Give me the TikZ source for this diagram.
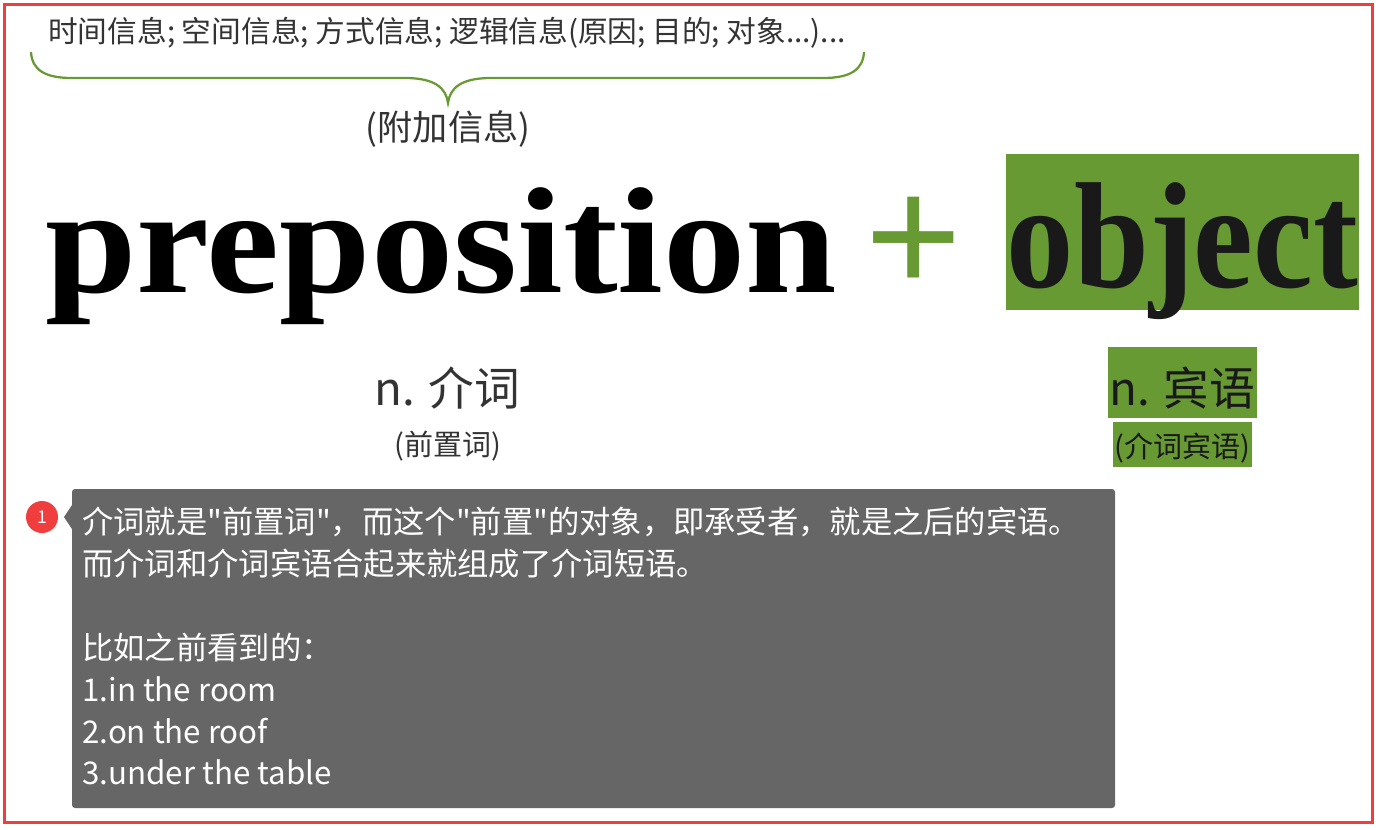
\documentclass[tikz,border=0pt]{standalone}
\usepackage{graphicx}
\usepackage{fontspec}
\newfontfamily\cjkfont{Noto Sans CJK SC}
\newfontfamily\wordfont{Liberation Serif}
\newfontfamily\plusfont{Liberation Sans}
\usetikzlibrary{positioning}
\definecolor{leafgreen}{RGB}{104,154,52}
\definecolor{notegray}{RGB}{102,102,102}
\definecolor{framered}{RGB}{240,62,62}

\begin{document}
\begin{tikzpicture}[
    x=0.2mm, y=-0.2mm,
    frame/.style={draw=framered, line width=0.6mm},
    bracket/.style={draw=leafgreen, line width=0.45mm},
    cntext/.style={inner sep=0pt, anchor=base, text=black!80},
    bigword/.style={inner sep=0pt, anchor=base, font=\wordfont\bfseries\fontsize{86}{86}\selectfont},
    wordbox/.style={fill=leafgreen, inner sep=0pt, anchor=base, text=black!90},
    note/.style={fill=notegray, rounded corners=0.6mm},
    notetext/.style={text=white, align=left, inner sep=0pt, anchor=north west,
                     font=\cjkfont\fontsize{17.8}{23.8}\selectfont},
    badge/.style={circle, fill=framered, text=white, inner sep=0pt, minimum size=6.4mm,
                  font=\cjkfont\fontsize{10}{10}\selectfont},
]

\useasboundingbox (0,0) rectangle (1380,829);

% Outer frame
\draw[frame] (4.5,4.5) rectangle (1372.5,822.5);

% Kinds of extra information, with the brace under them
\node[cntext, font=\cjkfont\fontsize{16.9}{20}\selectfont] (kinds) at (447,42)
    {时间信息; 空间信息; 方式信息; 逻辑信息(原因; 目的; 对象...)...};
\coordinate (bl) at (31,52);
\coordinate (br) at (864,52);
\coordinate (tip) at (448,103);
\draw[bracket] (bl) .. controls (32,70) and (45,78) .. (72,78) -- (405,78)
    .. controls (435,78) and (446,88) .. (tip)
    .. controls (450,88) and (461,78) .. (491,78) -- (823,78)
    .. controls (850,78) and (863,70) .. (br);
\node[cntext, font=\cjkfont\fontsize{20}{24}\selectfont] (extra) at (448,140) {(附加信息)};

% preposition + object
\node[bigword, anchor=base west] (prep) at (45,292) {\scalebox{1.088}[1]{preposition}};
\node[font=\plusfont\fontsize{94}{94}\selectfont, text=leafgreen, inner sep=0pt] (plus) at (914,245) {+};
\node[wordbox, bigword, text height=26.6mm, text depth=4.6mm, minimum width=70.6mm] (obj)
    at (1182.5,287) {\scalebox{0.89}[1]{object}};

% Chinese names
\node[cntext, font=\cjkfont\fontsize{26}{30}\selectfont] (prepcn) at (447,405) {n. 介词};
\node[cntext, font=\cjkfont\fontsize{16.5}{20}\selectfont] (prepalt) at (448,455) {(前置词)};
\node[wordbox, text height=11.6mm, text depth=2.6mm, minimum width=29.8mm,
      font=\cjkfont\fontsize{26}{30}\selectfont] (objcn) at (1182.5,405) {n. 宾语};
\node[wordbox, text height=7mm, text depth=2mm, minimum width=27.8mm,
      font=\cjkfont\fontsize{16.5}{20}\selectfont] (objalt) at (1182.5,457) {(介词宾语)};

% Note 1
\fill[note] (72,489) rectangle (1115,808);
\fill[notegray] (72,505) -- (64,517) -- (72,529) -- cycle;
\node[badge] (mark) at (42,517) {1};
\node[notetext] (explain) at (82,507) {介词就是"前置词"，而这个"前置"的对象，即承受者，就是之后的宾语。\\
    而介词和介词宾语合起来就组成了介词短语。\\[8.4mm]
    比如之前看到的：\\
    1.in the room\\
    2.on the roof\\
    3.under the table};

\end{tikzpicture}
\end{document}
